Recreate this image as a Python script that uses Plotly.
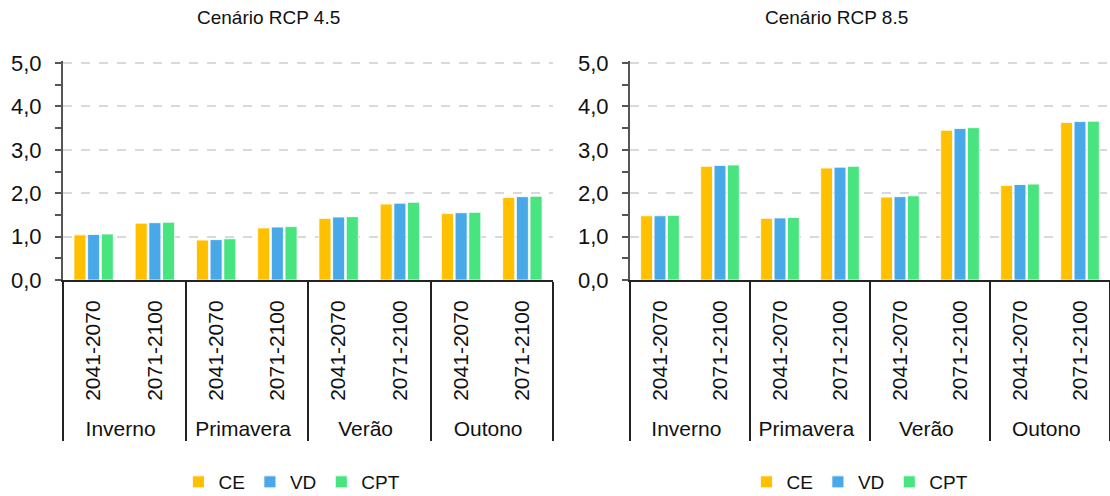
import plotly.graph_objects as go

seasons = ["Inverno", "Primavera", "Verão", "Outono"]
periods = ["2041-2070", "2071-2100"]
series = ["CE", "VD", "CPT"]
colors = ["#FFC000", "#49A8E8", "#48E480"]

rcp45_ce = [1.04, 1.31, 0.92, 1.20, 1.42, 1.75, 1.53, 1.90]
rcp45_vd = [1.05, 1.32, 0.93, 1.22, 1.45, 1.77, 1.55, 1.92]
rcp45_cpt = [1.06, 1.33, 0.95, 1.23, 1.46, 1.79, 1.56, 1.93]

rcp85_ce = [1.48, 2.62, 1.42, 2.58, 1.91, 3.45, 2.18, 3.63]
rcp85_vd = [1.48, 2.64, 1.43, 2.60, 1.92, 3.49, 2.20, 3.65]
rcp85_cpt = [1.49, 2.65, 1.44, 2.62, 1.94, 3.51, 2.21, 3.66]

titles = ["Cenário RCP 4.5", "Cenário RCP 8.5"]

# leading no-break space only adds a little room below the rotated labels
period_labels = ["\u00a0" + p for p in periods]
x = [[s for s in seasons for p in period_labels], [p for s in seasons for p in period_labels]]

W, H = 1110, 496
font = "Liberation Sans, Arial, sans-serif"

fig = go.Figure()
data = [[rcp45_ce, rcp45_vd, rcp45_cpt], [rcp85_ce, rcp85_vd, rcp85_cpt]]
for k, vals in enumerate(data):
    xa = "x" if k == 0 else "x2"
    ya = "y" if k == 0 else "y2"
    lg = "legend" if k == 0 else "legend2"
    for name, v, c in zip(series, vals, colors):
        fig.add_trace(go.Bar(
            x=x, y=v, name=name, xaxis=xa, yaxis=ya, legend=lg,
            marker=dict(color=c, line=dict(color="rgba(255,255,255,0.8)", width=1)),
        ))

ymax = 5.05
px_per_unit = (280 - 63) / 5.0
ytop = 280 - ymax * px_per_unit
ydom = [1 - 280 / H, 1 - ytop / H]
xdoms = [[63 / W, 553 / W], [630 / W, 1.0]]

axis_common_x = dict(
    type="multicategory", tickangle=-90, showdividers=True,
    dividercolor="#222222", dividerwidth=2, ticks="",
    showline=True, linecolor="#222222", linewidth=2,
    tickfont=dict(family=font, size=21, color="#111111"),
    showgrid=False, automargin=False, ticklabelstandoff=10,
)
axis_common_y = dict(
    range=[0, ymax], tickvals=[0, 1, 2, 3, 4, 5], tickformat=".1f", ticks="outside", ticklen=6,
    tickcolor="#555555", tickwidth=2,
    showline=True, linecolor="#555555", linewidth=2,
    showgrid=True, gridcolor="#d9d9d9", griddash="dash", gridwidth=1.5,
    zeroline=False, automargin=False, ticklabelstandoff=9,
    tickfont=dict(family=font, size=22, color="#111111"),
    minor=dict(tickvals=[0.5, 1.5, 2.5, 3.5, 4.5], ticks="outside", ticklen=6, tickcolor="#555555",
               tickwidth=2, showgrid=False),
)

legend_common = dict(orientation="h", xanchor="center", y=1 - 482 / H, yanchor="middle",
                     font=dict(family=font, size=19, color="#111111"), itemwidth=30,
                     bgcolor="rgba(0,0,0,0)")

fig.update_layout(
    width=W, height=H,
    margin=dict(l=0, r=0, t=0, b=0, autoexpand=False),
    paper_bgcolor="white", plot_bgcolor="white",
    separators=",.",
    barmode="group", bargap=0.33, bargroupgap=0.12,
    xaxis=dict(domain=xdoms[0], anchor="y", **axis_common_x),
    yaxis=dict(domain=ydom, anchor="x", **axis_common_y),
    xaxis2=dict(domain=xdoms[1], anchor="y2", **axis_common_x),
    yaxis2=dict(domain=ydom, anchor="x2", **axis_common_y),
    legend=dict(x=292 / W, **legend_common),
    legend2=dict(x=860 / W, **legend_common),
    annotations=[
        dict(text=titles[0], x=268 / W, y=1 - 18 / H, xref="paper", yref="paper",
             xanchor="center", yanchor="middle",
             showarrow=False, font=dict(family=font, size=19, color="#111111")),
        dict(text=titles[1], x=836 / W, y=1 - 18 / H, xref="paper", yref="paper",
             xanchor="center", yanchor="middle",
             showarrow=False, font=dict(family=font, size=19, color="#111111")),
    ],
)

post = ("document.documentElement.style.margin='0';"
        "document.documentElement.style.overflow='hidden';"
        "document.body.style.margin='0';"
        "document.body.style.overflow='hidden';")
fig.write_html("out.html", post_script=post, config={"displayModeBar": False})
